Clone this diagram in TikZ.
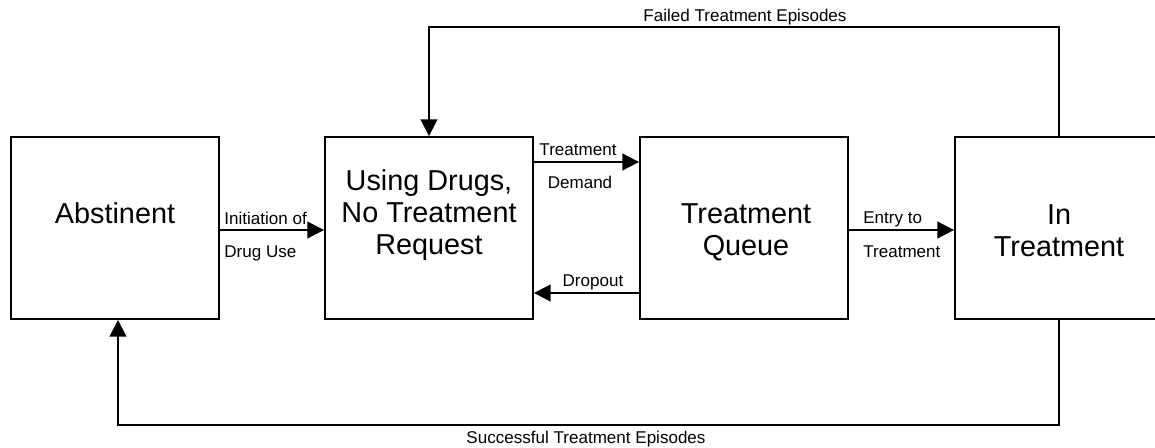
\documentclass[tikz,border=0pt]{standalone}
\usepackage{fontspec}
\setmainfont{Liberation Sans}
\usetikzlibrary{arrows.meta,calc}

\begin{document}
\begin{tikzpicture}[x=0.02cm, y=-0.02cm,
		state/.style={draw, line width=1.1pt, minimum width=4.16cm, minimum height=3.64cm, inner sep=0pt},
		statetext/.style={anchor=base, align=center, font=\fontsize{16.4}{18}\selectfont},
		flowtext/.style={font=\fontsize{9.7}{11}\selectfont, inner sep=0pt},
		flow/.style={line width=1.1pt, -{Triangle[length=9.5pt,width=9.5pt]}}]
		\useasboundingbox (0,0) rectangle (1155,447);
		\clip (0,0) rectangle (1155,447);

		\node[state] (abst) at (115,228) {};
		\node[state] (usg) at (429,228) {};
		\node[state] (queue) at (744,228) {};
		\node[state] (intr) at (1059,228) {};

		\node[statetext] (absttxt) at (115,223) {Abstinent};
		\node[statetext] (usgtxt) at (429,254) {Using Drugs,\\No Treatment\\Request};
		\node[statetext] (queuetxt) at (746,255) {Treatment\\Queue};
		\node[statetext] (intrtxt) at (1059,256) {In\\Treatment};

		\draw[flow] ($(abst.east)+(0,2)$) -- ($(usg.west)+(0,2)$);
		\draw[flow] ($(usg.east)+(0,-66)$) -- ($(queue.west)+(0,-66)$);
		\draw[flow] ($(queue.west)+(0,65)$) -- ($(usg.east)+(0,65)$);
		\draw[flow] ($(queue.east)+(0,2)$) -- ($(intr.west)+(0,2)$);

		\draw[flow] (intr.north) -- ++(0,-109) -| (usg.north);
		\draw[flow] (intr.south) -- ++(0,105) -| ($(abst.south)+(3,0)$);

		\node[flowtext, anchor=base west] (initlbl) at (224,224) {Initiation of};
		\node[flowtext, anchor=base west] (druglbl) at (224,257) {Drug Use};
		\node[flowtext, anchor=base] (demlbl1) at (578,155) {Treatment};
		\node[flowtext, anchor=base] (demlbl2) at (580,188) {Demand};
		\node[flowtext, anchor=base] (droplbl) at (593,286) {Dropout};
		\node[flowtext, anchor=base west] (entrylbl1) at (863,223) {Entry to};
		\node[flowtext, anchor=base west] (entrylbl2) at (863,257) {Treatment};

		\node[flowtext, anchor=base] (failedlbl) at (745,21) {Failed Treatment Episodes};
		\node[flowtext, anchor=base] (successlbl) at (586,443) {Successful Treatment Episodes};
\end{tikzpicture}
\end{document}
